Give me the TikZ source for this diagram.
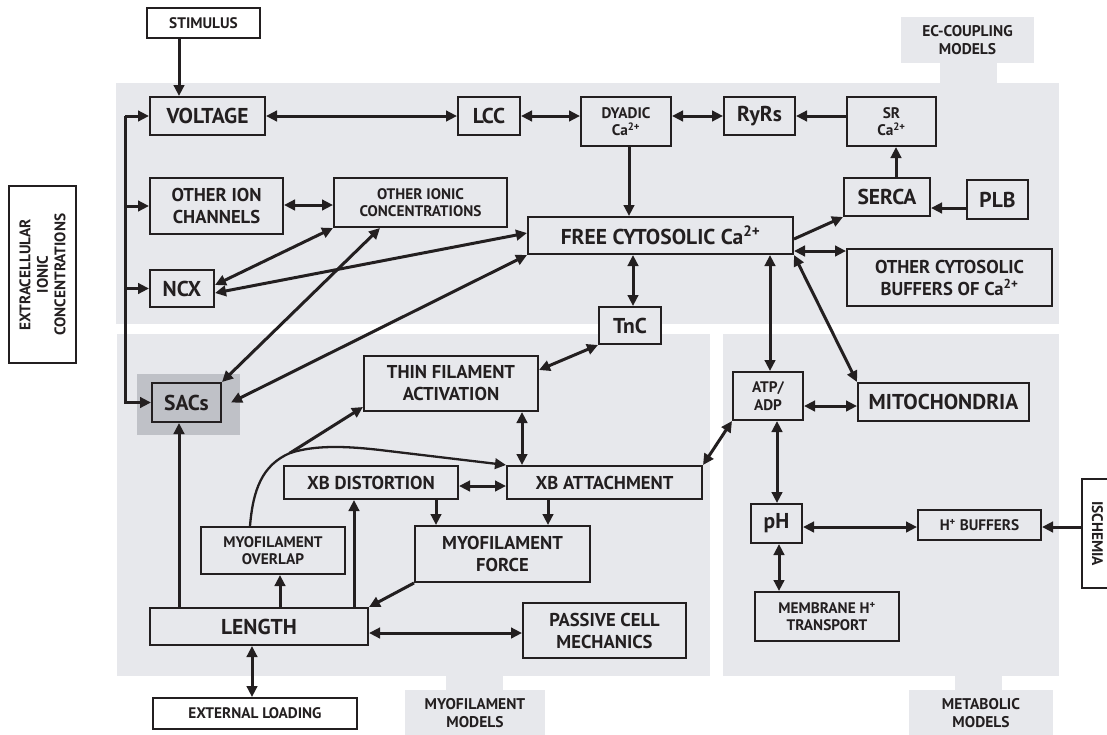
\documentclass[tikz,border=0pt]{standalone}
\usepackage{fontspec}
\setmainfont{PT Sans}
\usetikzlibrary{arrows.meta,calc}
\definecolor{panel}{RGB}{231,232,236}
\definecolor{hl}{RGB}{191,193,199}
\definecolor{ink}{RGB}{35,31,32}
\tikzset{
 box/.style={draw=ink, line width=2pt, inner sep=0pt, align=center, text=ink, fill=panel},
 big/.style={font=\fontsize{21.5}{24}\selectfont\bfseries},
 mid/.style={font=\fontsize{18.6}{22}\selectfont\bfseries},
 sml/.style={font=\fontsize{15.3}{17.5}\selectfont\bfseries},
 tab/.style={fill=panel, inner sep=0pt, align=center, text=ink, font=\fontsize{15.5}{17.5}\selectfont\bfseries},
 arr/.style={draw=ink, line width=3pt, -{Triangle[length=11pt,width=10.5pt]}},
 darr/.style={draw=ink, line width=3pt, {Triangle[length=11pt,width=10.5pt]}-{Triangle[length=11pt,width=10.5pt]}},
 thinarr/.style={draw=ink, line width=2.3pt, -{Triangle[length=11pt,width=10.5pt]}},
}
\begin{document}
\begin{tikzpicture}[x=1pt,y=-1pt]
\clip (0,0) rectangle (1107,734);
\fill[white] (0,0) rectangle (1107,734);
% panels
\fill[panel] (116,83) rectangle (1059,324);
\fill[panel] (117,334) rectangle (710,676);
\fill[panel] (723,334) rectangle (1059,676);
\fill[panel] (940,62) rectangle (997,84);
\fill[panel] (446,675) rectangle (503,691);
\fill[panel] (955,675) rectangle (1002,691);
\node[tab, minimum width=133pt, minimum height=46pt] (tabec) at (967.5,40) {EC-COUPLING\\MODELS};
\node[tab, minimum width=140pt, minimum height=46pt] (tabmyo) at (475,713) {MYOFILAMENT\\MODELS};
\node[tab, minimum width=144pt, minimum height=46pt] (tabmet) at (981,713) {METABOLIC\\MODELS};
\fill[hl] (137,374) rectangle (240,435);
% nodes
\node[box,sml,fill=white,minimum width=113pt,minimum height=30pt] (stim) at (203.5,23) {STIMULUS};
\node[box,big,minimum width=115pt,minimum height=38pt] (volt) at (207.5,116) {VOLTAGE};
\node[box,big,minimum width=62pt,minimum height=38pt] (lcc) at (489,116) {LCC};
\node[box,sml,minimum width=90pt,minimum height=49pt] (dyad) at (626,121.5) {DYADIC\\Ca\textsuperscript{2+}};
\node[box,big,minimum width=71pt,minimum height=38pt] (ryr) at (759.5,116) {RyRs};
\node[box,sml,minimum width=89pt,minimum height=49pt] (sr) at (891.5,121.5) {SR\\Ca\textsuperscript{2+}};
\node[box,big,minimum width=86pt,minimum height=38pt] (serca) at (887,197) {SERCA};
\node[box,big,minimum width=61pt,minimum height=39pt] (plb) at (997.5,199.5) {PLB};
\node[box,mid,minimum width=133pt,minimum height=56pt] (oic) at (216.5,206) {OTHER ION\\CHANNELS};
\node[box,sml,minimum width=173pt,minimum height=49pt] (oicon) at (420.5,202.5) {OTHER IONIC\\CONCENTRATIONS};
\node[box,big,minimum width=265pt,minimum height=37pt] (free) at (660.5,235.5) {FREE CYTOSOLIC Ca\textsuperscript{2+}};
\node[box,mid,minimum width=205pt,minimum height=57pt] (ocb) at (949.5,277.5) {OTHER CYTOSOLIC\\BUFFERS OF Ca\textsuperscript{2+}};
\node[box,big,minimum width=64pt,minimum height=37pt] (ncx) at (182,288.5) {NCX};
\node[box,big,minimum width=62pt,minimum height=37pt] (tnc) at (630,325.5) {TnC};
\node[box,sml,fill=white,rotate=90,minimum width=177pt,minimum height=67pt] (extra) at (42.5,274.5) {EXTRACELLULAR\\IONIC\\CONCENTRATIONS};
\node[box,big,fill=hl,minimum width=69pt,minimum height=39pt] (sacs) at (186.5,402.5) {SACs};
\node[box,mid,minimum width=174pt,minimum height=55pt] (thin) at (451,383.5) {THIN FILAMENT\\ACTIVATION};
\node[box,mid,minimum width=174pt,minimum height=33pt] (xbd) at (371,482.5) {XB DISTORTION};
\node[box,mid,minimum width=195pt,minimum height=33pt] (xba) at (604.5,482.5) {XB ATTACHMENT};
\node[box,sml,minimum width=144pt,minimum height=47pt] (ovl) at (273,550.5) {MYOFILAMENT\\OVERLAP};
\node[box,mid,minimum width=175pt,minimum height=56pt] (force) at (502.5,554) {MYOFILAMENT\\FORCE};
\node[box,big,minimum width=218pt,minimum height=37pt] (len) at (259,626.5) {LENGTH};
\node[box,mid,minimum width=163pt,minimum height=55pt] (pass) at (604.5,630.5) {PASSIVE CELL\\MECHANICS};
\node[box,sml,fill=white,minimum width=204pt,minimum height=31pt] (ext) at (255,713.5) {EXTERNAL LOADING};
\node[box,sml,minimum width=70pt,minimum height=48pt] (atp) at (768,396) {ATP/\\ADP};
\node[box,big,minimum width=171pt,minimum height=38pt] (mito) at (943.5,402) {MITOCHONDRIA};
\node[box,big,minimum width=51pt,minimum height=39pt] (ph) at (776.5,523.5) {pH};
\node[box,sml,minimum width=123pt,minimum height=30pt] (hbuf) at (979.5,525) {H\textsuperscript{+} BUFFERS};
\node[box,sml,minimum width=144pt,minimum height=49pt] (mem) at (827,616.5) {MEMBRANE H\textsuperscript{+}\\TRANSPORT};
\node[box,sml,fill=white,rotate=-90,minimum width=109pt,minimum height=31pt] (isch) at (1097.5,533.5) {ISCHEMIA};
% EC coupling connectors
\draw[arr] (stim.south -| 179,0) -- (volt.north -| 179,0);
\draw[darr] (volt.east) -- (lcc.west);
\draw[darr] (lcc.east) -- (dyad.west |- lcc.east);
\draw[darr] (dyad.east |- ryr.west) -- (ryr.west);
\draw[arr] (sr.west |- ryr.east) -- (ryr.east);
\draw[arr] (serca.north -| 896,0) -- (sr.south -| 896,0);
\draw[arr] (plb.west |- 0,208) -- (serca.east |- 0,208);
\draw[arr] (dyad.south -| 629,0) -- (free.north -| 629,0);
\draw[arr] (free.east |- 0,239) -- (serca.south west);
\draw[darr] (free.east |- 0,251) -- (ocb.west |- 0,251);
\draw[darr] (free.south -| 633,0) -- (tnc.north -| 633,0);
\draw[darr] (free.south -| 770,0) -- (atp.north -| 770,0);
\draw[darr] (free.south east) -- (mito.north west);
\draw[darr] (oic.east |- 0,205) -- (oicon.west |- 0,205);
\draw[darr] (ncx.east |- 0,285) -- (oicon.south west);
\draw[darr] (ncx.east |- 0,293) -- (free.west |- 0,233);
\draw[darr] (oicon.south -| 380,0) -- (sacs.north east);
\draw[darr] (free.south west) -- ($(sacs.east)+(9,0)$);
% bus
\coordinate (busT) at (volt.west -| 125,0);
\draw[arr] (busT) |- (sacs.west);
\draw[arr] (busT) -- (volt.west);
\draw[arr] (oic.west -| busT) -- (oic.west);
\draw[arr] (ncx.west -| busT) -- (ncx.west);
% myofilament
\draw[darr] (tnc.south west) -- (thin.east |- 0,370);
\draw[darr] (thin.south -| 522,0) -- (xba.north -| 522,0);
\draw[darr] (xbd.east |- 0,486) -- (xba.west |- 0,486);
\draw[arr] (xbd.south -| 436,0) -- (force.north -| 436,0);
\draw[arr] (xba.south -| 548,0) -- (force.north -| 548,0);
\draw[arr] (force.south west) -- (len.north east);
\draw[arr] (len.north -| 280,0) -- (ovl.south -| 280,0);
\draw[arr] (len.north -| 354,0) -- (xbd.south -| 354,0);
\draw[arr] (len.north -| 179,0) -- (sacs.south -| 179,0);
\draw[darr] (len.east |- 0,633) -- (pass.west |- 0,633);
\draw[darr] (len.south -| 252,0) -- (ext.north -| 252,0);
\coordinate (J) at (290,453);
\draw[thinarr] (ovl.north -| 250,0) .. controls (253,490) and (262,465) .. (J) .. controls (315,445) and (345,446) .. (380,450) -- (xba.north west);
\draw[arr] (J) -- (thin.west |- 0,407);
% metabolic
\draw[darr] (xba.north east) -- (atp.south west);
\draw[darr] (atp.east |- 0,406) -- (mito.west |- 0,406);
\draw[darr] (atp.south -| 777,0) -- (ph.north -| 777,0);
\draw[darr] (ph.east |- 0,527) -- (hbuf.west |- 0,527);
\draw[arr] (isch.south |- 0,527) -- (hbuf.east |- 0,527);
\draw[darr] (ph.south -| 779,0) -- (mem.north -| 779,0);
\end{tikzpicture}
\end{document}
